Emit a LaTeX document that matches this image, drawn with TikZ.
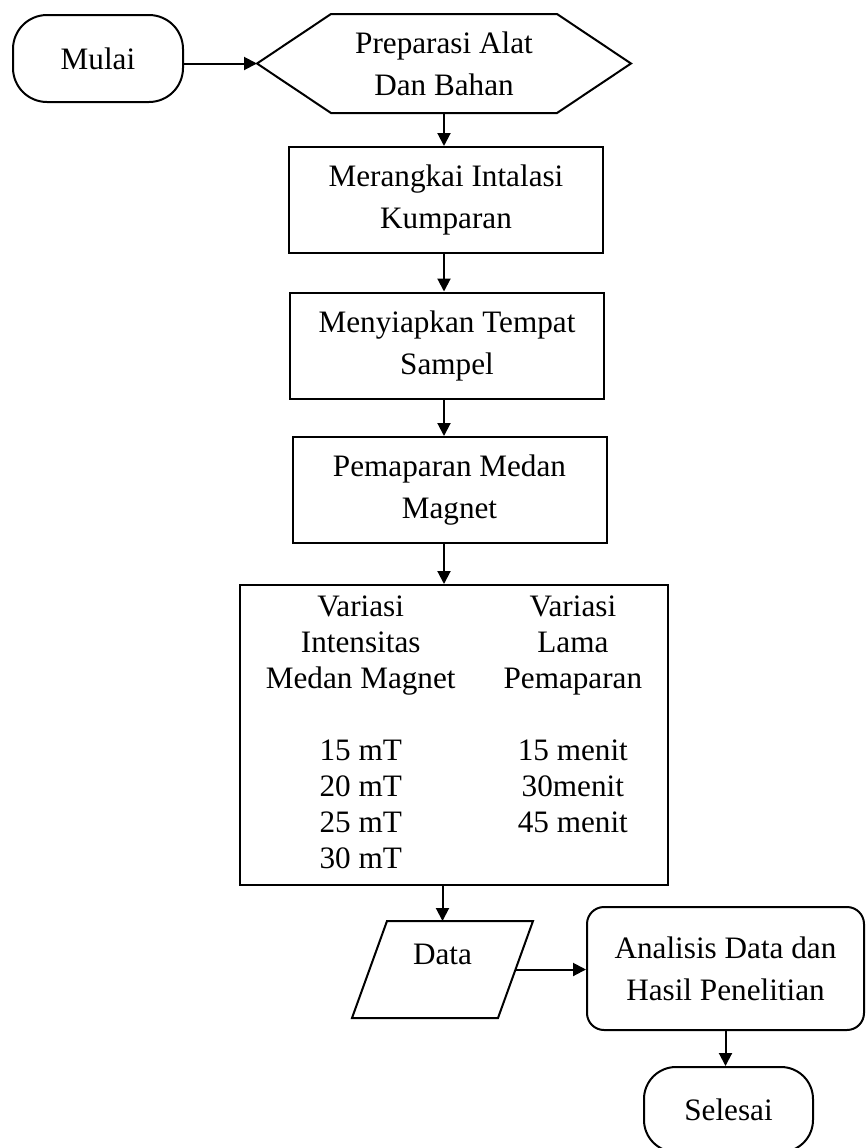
\documentclass[tikz,border=0pt]{standalone}
\usepackage{fontspec}
\setmainfont{Liberation Serif}
\usetikzlibrary{arrows.meta}
\usetikzlibrary{positioning}

\begin{document}
\begin{tikzpicture}[->,>={Triangle[length=6.5pt,width=6.5pt]},x=0.5pt,y=-0.5pt,line width=1pt,
		nodes={font=\fontsize{15.6}{21}\selectfont,align=center,inner sep=0pt},
		term/.style={draw,rounded corners=17pt,minimum width=85pt,minimum height=43.5pt},
		proc/.style={draw,minimum width=157pt,minimum height=53pt}]
		\useasboundingbox (0,0) rectangle (868,1148);
		% shapes
		\node[term] (mulai) at (98,58.5) {Mulai};
		\node[minimum width=186pt,minimum height=48.5pt] (prep) at (444,63.5) {Preparasi Alat\\Dan Bahan};
		\draw[-] (prep.west) -- ([xshift=37pt]prep.north west) -- ([xshift=-37pt]prep.north east) -- (prep.east)
			-- ([xshift=-37pt]prep.south east) -- ([xshift=37pt]prep.south west) -- cycle;
		\node[proc] (kump) at (446,200) {Merangkai Intalasi\\Kumparan};
		\node[proc] (samp) at (447,345.5) {Menyiapkan Tempat\\Sampel};
		\node[proc] (pem) at (449.5,490) {Pemaparan Medan\\Magnet};
		\node[draw,minimum width=214pt,minimum height=150pt] (var) at (454,735)
			{{\fontsize{15.6}{18}\selectfont
			\begin{tabular}{@{}c@{\hspace{24pt}}c@{}}
				Variasi & Variasi \\
				Intensitas & Lama \\
				Medan Magnet & Pemaparan \\
				& \\
				15 mT & 15 menit \\
				20 mT & 30menit \\
				25 mT & 45 menit \\
				30 mT &
			\end{tabular}}};
		\node[minimum width=72pt,minimum height=47.5pt,text depth=15pt] (data) at (442.5,969.5) {Data};
		\draw[-] ([xshift=8.75pt]data.north west) -- ([xshift=8.75pt]data.north east)
			-- ([xshift=-8.75pt]data.south east) -- ([xshift=-8.75pt]data.south west) -- cycle;
		\node[draw,rounded corners=8.5pt,minimum width=138.5pt,minimum height=61.5pt] (ana) at (725.5,968.5) {Analisis Data dan\\Hasil Penelitian};
		\node[term,minimum width=84.5pt,minimum height=42.5pt,rounded corners=16pt] (sel) at (728.5,1109.5) {Selesai};
		% arrows
		\draw (mulai.east |- prep.west) -- (prep.west);
		\draw (prep.south) -- (prep.south |- kump.north);
		\draw (kump.south -| prep.south) -- (samp.north -| prep.south);
		\draw (samp.south -| prep.south) -- (pem.north -| prep.south);
		\draw (pem.south -| prep.south) -- (var.north -| prep.south);
		\draw (var.south -| data.north) -- (data.north);
		\draw (data.east) -- (data.east -| ana.west);
		\draw (ana.south) -- (ana.south |- sel.north);
\end{tikzpicture}
\end{document}
